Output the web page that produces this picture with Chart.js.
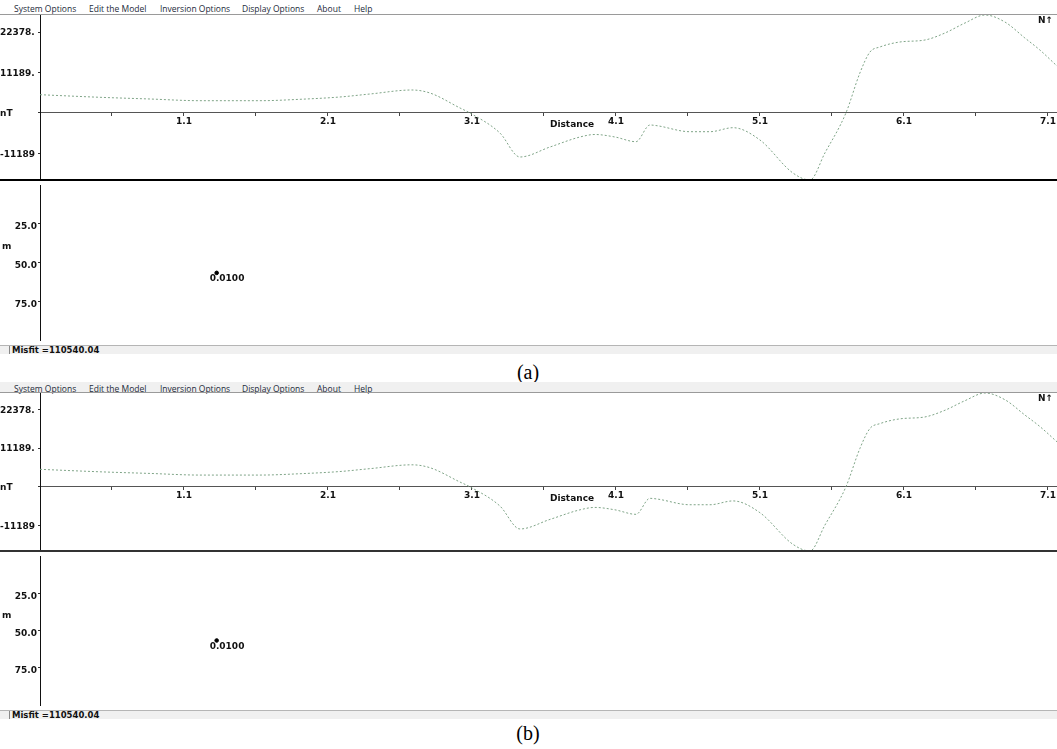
<!DOCTYPE html>
<html>
<head>
<meta charset="utf-8">
<script src="https://cdn.jsdelivr.net/npm/chart.js@4/dist/chart.umd.min.js"></script>
<style>
  html,body{margin:0;padding:0;background:#fff;}
  body{width:1057px;height:749px;position:relative;overflow:hidden;}
  .menu span{position:absolute;font-family:"Open Sans",sans-serif;font-size:8.5px;color:#1d2a3a;white-space:nowrap;line-height:11px;}
  .lbl{position:absolute;font-family:"DejaVu Sans",sans-serif;font-weight:bold;font-size:9px;color:#111;white-space:nowrap;line-height:10px;}
  .cap{position:absolute;font-family:"Liberation Serif","Times New Roman",serif;font-size:20px;color:#000;line-height:22px;transform:translateX(-50%);}
</style>
</head>
<body>
<script>
// ---------- data ----------
const distance = [0.1,0.517,0.864,1.211,1.628,1.906,2.183,2.392,2.683,2.808,3.017,3.086,3.294,3.433,3.642,3.85,3.954,4.093,4.239,4.336,4.385,4.614,4.753,4.913,5.1,5.329,5.447,5.551,5.697,5.794,5.864,5.933,6.072,6.246,6.385,6.524,6.663,6.801,6.94,7.044,7.163];
const anomalyNT = [5056,4338,3868,3398,3398,3785,4421,5250,6355,5526,1382,0,-5526,-12157,-9394,-6631,-5940,-6631,-7930,-3316,-3509,-5167,-5167,-4062,-7460,-16578,-18512,-11052,0,11052,16854,18236,19617,20170,22104,24867,27077,25143,20723,17407,12986];
const xMajorTicks = [1.1,2.1,3.1,4.1,5.1,6.1,7.1];
const xMinorTicks = [0.6,1.6,2.6,3.6,4.6,5.6,6.6];
const yTickValues = [22378,11189,0,-11189];
const yTickLabels = ["22378.","11189.","nT","-11189"];
const depthTicks = [25,50,75];
const depthMax = 100;
const bodyDistance = [1.333];
const bodyDepth = [56.7];
const bodyLabels = ["0.0100"];
const misfitText = "Misfit =110540.04";
const menuItems = ["System Options","Edit the Model","Inversion Options","Display Options","About","Help"];
const captions = ["(a)","(b)"];
// -------------------------------------------------

const menuX = [14,89,160,242,317,354];
const panels = [
  {menuTop:0, menuBg:'#ffffff', plotTop:15, plotBottom:180, depthBottom:345, captionY:361},
  {menuTop:382, menuBg:'#f0f0f0', plotTop:393, plotBottom:551, depthBottom:710, captionY:722}
];
const W = 1057;
const AXW = 40;
const tickFont = {family:'"DejaVu Sans", sans-serif', weight:'bold', size:9};

function el(tag, cls, style, text){
  const e=document.createElement(tag);
  if(cls) e.className=cls;
  Object.assign(e.style, style||{});
  if(text!==undefined) e.textContent=text;
  document.body.appendChild(e);
  return e;
}
function makeCanvas(top,height){
  const c=document.createElement('canvas');
  c.width=W; c.height=height;
  c.style.position='absolute'; c.style.left='0px'; c.style.top=top+'px';
  c.style.width=W+'px'; c.style.height=height+'px';
  document.body.appendChild(c);
  return c;
}
function noPad(s){ s.paddingTop=0; s.paddingBottom=0; s.paddingLeft=0; s.paddingRight=0; }

const xMin = distance[0], xMax = distance[distance.length-1];
const yMin = Math.min(...anomalyNT), yMax = Math.max(...anomalyNT);
const allXTicks = xMinorTicks.concat(xMajorTicks).sort((a,b)=>a-b);

panels.forEach((p,pi)=>{
  // menu bar
  const m = el('div','menu',{position:'absolute',left:'0px',top:p.menuTop+'px',width:W+'px',height:(p.plotTop-p.menuTop)+'px',background:p.menuBg});
  menuItems.forEach((t,i)=>{
    const s=document.createElement('span');
    s.textContent=t; s.style.left=menuX[i]+'px'; s.style.top=(pi===0?3:1)+'px';
    m.appendChild(s);
  });

  // profile chart
  const c1 = makeCanvas(p.plotTop, p.plotBottom-p.plotTop);
  const profileLabels = {
    id:'profileLabels'+pi,
    afterDraw(chart){
      const ctx=chart.ctx, ys=chart.scales.y;
      ctx.save();
      ctx.font='bold 9px "DejaVu Sans", sans-serif';
      ctx.fillStyle='#111';
      ctx.textBaseline='middle';
      ctx.textAlign='center';
      ctx.fillText('Distance', 572, ys.getPixelForValue(0)+12);
      ctx.textAlign='left';
      ctx.fillText('N\u2191', 1038, 6);
      ctx.restore();
    }
  };
  new Chart(c1,{
    type:'line',
    data:{datasets:[{
      data: distance.map((d,i)=>({x:d,y:anomalyNT[i]})),
      borderColor:'#7fa487',
      borderWidth:1,
      borderDash:[2,2],
      pointRadius:0,
      cubicInterpolationMode:'monotone',
      fill:false
    }]},
    options:{
      responsive:false, animation:false, devicePixelRatio:1,
      layout:{padding:0},
      plugins:{legend:{display:false},tooltip:{enabled:false}},
      clip:false,
      scales:{
        x:{
          type:'linear', min:xMin, max:xMax,
          position:{y:0},
          afterFit:noPad,
          afterBuildTicks:(s)=>{ s.ticks = allXTicks.map(v=>({value:v})); },
          grid:{display:true, drawOnChartArea:false, drawTicks:true, tickLength:3, color:'#444', tickColor:'#444', tickWidth:1},
          border:{display:true, color:'#555', width:1},
          ticks:{
            autoSkip:false, maxRotation:0, padding:0, color:'#111', font:tickFont,
            callback:(v)=> xMajorTicks.some(t=>Math.abs(t-v)<1e-6) ? v.toFixed(1) : ''
          }
        },
        y:{
          type:'linear', min:yMin, max:yMax, position:'left',
          afterFit:(s)=>{ s.width = AXW; noPad(s); },
          afterBuildTicks:(s)=>{ s.ticks = yTickValues.map(v=>({value:v})); },
          grid:{display:true, drawOnChartArea:false, drawTicks:true, tickLength:2, tickColor:'#333'},
          border:{display:true, color:'#111', width:1},
          ticks:{
            crossAlign:'far', padding:1, color:'#111', font:tickFont, labelOffset:1,
            callback:(v)=>{ const i=yTickValues.indexOf(v); return i>=0?yTickLabels[i]:''; }
          }
        }
      }
    },
    plugins:[profileLabels]
  });

  // depth chart
  const c2 = makeCanvas(p.plotBottom, p.depthBottom-p.plotBottom);
  const depthLabels = {
    id:'depthLabels'+pi,
    afterDraw(chart){
      const ctx=chart.ctx, xs=chart.scales.x, ys=chart.scales.y;
      ctx.save();
      ctx.font='bold 9px "DejaVu Sans", sans-serif';
      ctx.fillStyle='#111';
      ctx.textBaseline='middle';
      ctx.textAlign='left';
      ctx.fillText('m', 2, ys.getPixelForValue(40));
      bodyLabels.forEach((t,i)=>{
        ctx.fillText(t, xs.getPixelForValue(bodyDistance[i])-7, ys.getPixelForValue(bodyDepth[i])+6);
      });
      ctx.restore();
    }
  };
  new Chart(c2,{
    type:'scatter',
    data:{datasets:[{
      data: bodyDistance.map((d,i)=>({x:d,y:bodyDepth[i]})),
      backgroundColor:'#000', borderColor:'#000', pointRadius:1.8, pointStyle:'circle'
    }]},
    options:{
      responsive:false, animation:false, devicePixelRatio:1,
      layout:{padding:0},
      plugins:{legend:{display:false},tooltip:{enabled:false}},
      scales:{
        x:{type:'linear', min:xMin, max:xMax, display:false},
        y:{
          type:'linear', min:0, max:depthMax, reverse:true, position:'left',
          afterFit:(s)=>{ s.width = AXW; noPad(s); },
          afterBuildTicks:(s)=>{ s.ticks = depthTicks.map(v=>({value:v})); },
          grid:{display:true, drawOnChartArea:false, drawTicks:true, tickLength:2, tickColor:'#333'},
          border:{display:true, color:'#111', width:1},
          ticks:{padding:1, color:'#111', font:tickFont, labelOffset:3,
            callback:(v)=>v.toFixed(1)}
        }
      }
    },
    plugins:[depthLabels]
  });

  // frame lines
  el('div',null,{position:'absolute',left:'0px',top:(p.plotTop-1)+'px',width:W+'px',height:'1px',background:'#9a9a9a'});
  el('div',null,{position:'absolute',left:'0px',top:(p.plotBottom-1)+'px',width:W+'px',height:'2px',background:pi===0?'#000':'#333'});
  // status bar
  el('div',null,{position:'absolute',left:'0px',top:p.depthBottom+'px',width:W+'px',height:'8px',background:'#f0f0f0',borderTop:'1px solid #b5b5b5'});
  el('div',null,{position:'absolute',left:'9px',top:(p.depthBottom+1)+'px',width:'1px',height:'8px',background:'#888'});
  el('div','lbl',{left:'12px',top:(p.depthBottom+1)+'px',fontSize:'8.5px',lineHeight:'9px'},misfitText);
  // caption
  el('div','cap',{left:'528px',top:p.captionY+'px'},captions[pi]);
});
</script>
</body>
</html>
